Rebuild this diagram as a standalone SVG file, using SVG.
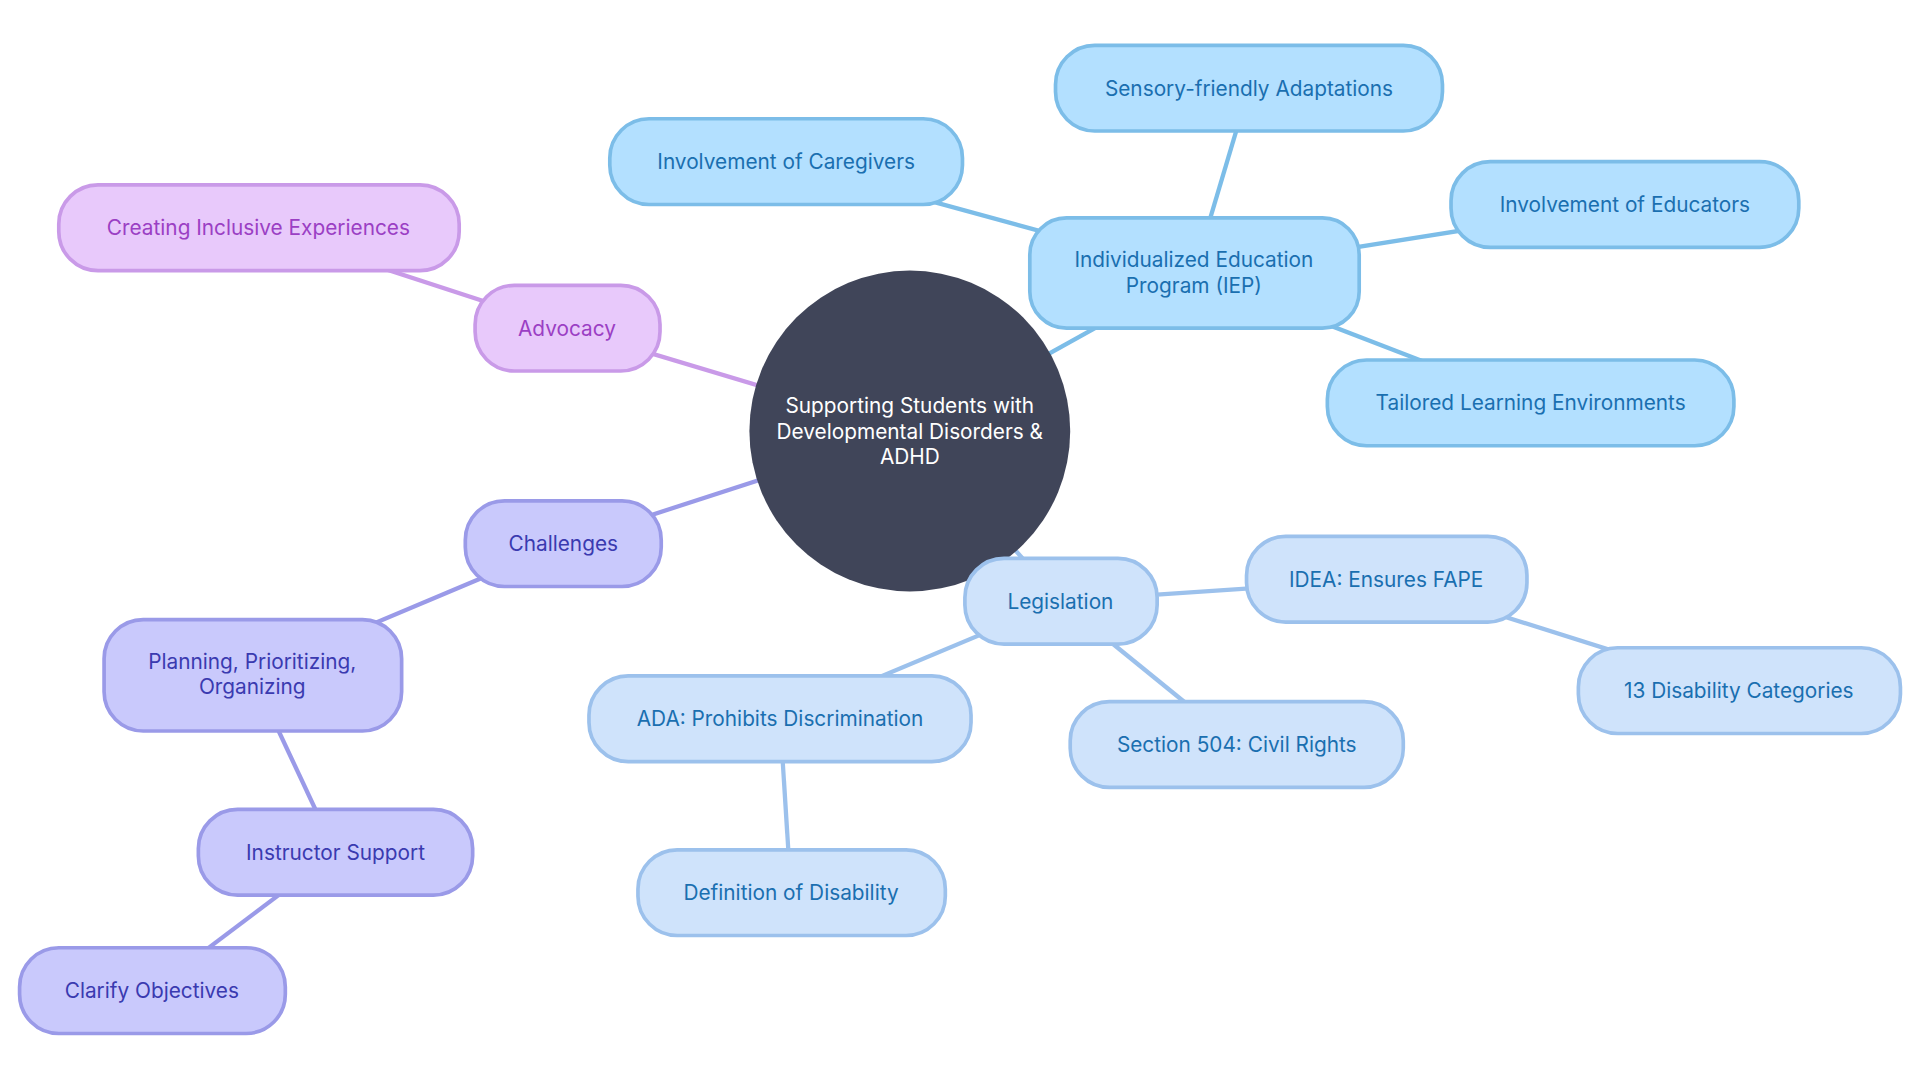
<svg xmlns="http://www.w3.org/2000/svg" width="1920" height="1080" viewBox="0 0 1920 1080">
<style>
text{font-family:Inter,"Noto Sans",sans-serif;font-size:17px;text-anchor:middle;dominant-baseline:central}
.b rect{fill:#b3e0ff;stroke:#7cbde8;stroke-width:3}.b text{fill:#1a6fb0}
.l rect{fill:#cfe3fb;stroke:#9cc1ec;stroke-width:3}.l text{fill:#1a6fb0}
.p rect{fill:#e8c9fb;stroke:#c99ae8;stroke-width:3}.p text{fill:#9b3fc4}
.v rect{fill:#c9c9fc;stroke:#9a9ae8;stroke-width:3}.v text{fill:#3a3ab0}
#edges line{stroke-width:3.5}
</style>
<rect width="1920" height="1080" fill="#fff"/>
<g transform="scale(1.2245)">
<g id="edges">
<line x1="743" y1="352" x2="975" y2="223" stroke="#7cbde8"/>
<line x1="975" y1="223" x2="1020" y2="72" stroke="#7cbde8"/>
<line x1="975" y1="223" x2="642" y2="132" stroke="#7cbde8"/>
<line x1="975" y1="223" x2="1327" y2="167" stroke="#7cbde8"/>
<line x1="975" y1="223" x2="1250" y2="329" stroke="#7cbde8"/>
<line x1="743" y1="352" x2="866" y2="491" stroke="#9cc1ec"/>
<line x1="866" y1="491" x2="1132" y2="473" stroke="#9cc1ec"/>
<line x1="1132" y1="473" x2="1420" y2="564" stroke="#9cc1ec"/>
<line x1="866" y1="491" x2="1010" y2="608" stroke="#9cc1ec"/>
<line x1="866" y1="491" x2="637" y2="587" stroke="#9cc1ec"/>
<line x1="637" y1="587" x2="646" y2="729" stroke="#9cc1ec"/>
<line x1="743" y1="352" x2="463" y2="268" stroke="#c99ae8"/>
<line x1="463" y1="268" x2="211" y2="186" stroke="#c99ae8"/>
<line x1="743" y1="352" x2="460" y2="444" stroke="#9a9ae8"/>
<line x1="460" y1="444" x2="206" y2="551" stroke="#9a9ae8"/>
<line x1="206" y1="551" x2="274" y2="696" stroke="#9a9ae8"/>
<line x1="274" y1="696" x2="124" y2="809" stroke="#9a9ae8"/>
</g>
<g id="root"><circle cx="743" cy="352" r="131" fill="#404559"/>
<text x="743" y="331" fill="#fff">Supporting Students with</text><text x="743" y="352" fill="#fff">Developmental Disorders &amp;</text><text x="743" y="373" fill="#fff">ADHD</text></g>
<g id="iep" class="b"><rect x="841" y="178" width="269" height="90" rx="30"/><text x="975" y="212">Individualized Education</text><text x="975" y="233">Program (IEP)</text></g>
<g id="sensory" class="b"><rect x="862" y="37" width="316" height="70" rx="32"/><text x="1020" y="72">Sensory-friendly Adaptations</text></g>
<g id="caregivers" class="b"><rect x="498" y="97" width="288" height="70" rx="32"/><text x="642" y="132">Involvement of Caregivers</text></g>
<g id="educators" class="b"><rect x="1185" y="132" width="284" height="70" rx="32"/><text x="1327" y="167">Involvement of Educators</text></g>
<g id="tailored" class="b"><rect x="1084" y="294" width="332" height="70" rx="32"/><text x="1250" y="329">Tailored Learning Environments</text></g>
<g id="legislation" class="l"><rect x="788" y="456" width="157" height="70" rx="32"/><text x="866" y="491">Legislation</text></g>
<g id="idea" class="l"><rect x="1018" y="438" width="229" height="70" rx="32"/><text x="1132" y="473">IDEA: Ensures FAPE</text></g>
<g id="cat13" class="l"><rect x="1289" y="529" width="263" height="70" rx="32"/><text x="1420" y="564">13 Disability Categories</text></g>
<g id="s504" class="l"><rect x="874" y="573" width="272" height="70" rx="32"/><text x="1010" y="608">Section 504: Civil Rights</text></g>
<g id="ada" class="l"><rect x="481" y="552" width="312" height="70" rx="32"/><text x="637" y="587">ADA: Prohibits Discrimination</text></g>
<g id="definition" class="l"><rect x="521" y="694" width="251" height="70" rx="32"/><text x="646" y="729">Definition of Disability</text></g>
<g id="advocacy" class="p"><rect x="388" y="233" width="151" height="70" rx="32"/><text x="463" y="268">Advocacy</text></g>
<g id="creating" class="p"><rect x="48" y="151" width="327" height="70" rx="32"/><text x="211" y="186">Creating Inclusive Experiences</text></g>
<g id="challenges" class="v"><rect x="380" y="409" width="160" height="70" rx="32"/><text x="460" y="444">Challenges</text></g>
<g id="planning" class="v"><rect x="85" y="506" width="243" height="91" rx="32"/><text x="206" y="540">Planning, Prioritizing,</text><text x="206" y="561">Organizing</text></g>
<g id="instructor" class="v"><rect x="162" y="661" width="224" height="70" rx="32"/><text x="274" y="696">Instructor Support</text></g>
<g id="clarify" class="v"><rect x="16" y="774" width="217" height="70" rx="32"/><text x="124" y="809">Clarify Objectives</text></g>
</g>
</svg>
